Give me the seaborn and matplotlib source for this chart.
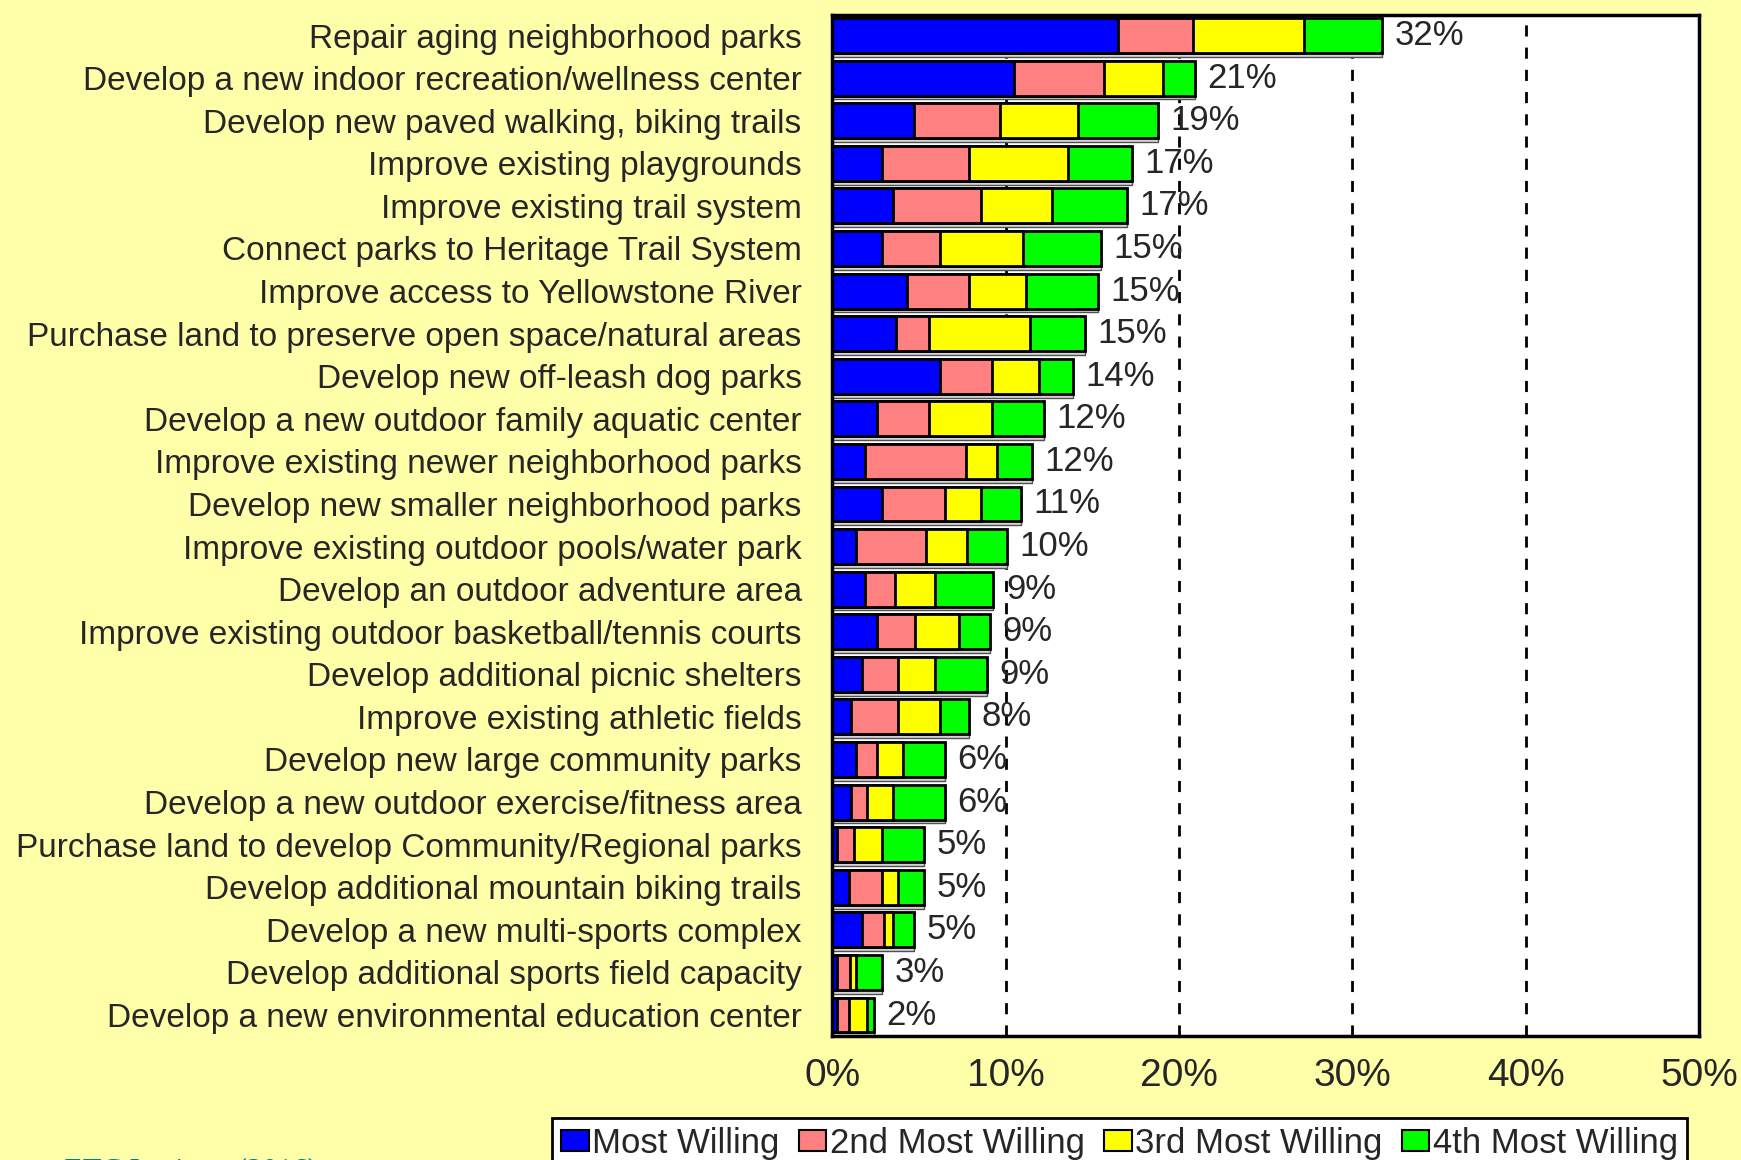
import matplotlib
matplotlib.use("Agg")
import matplotlib.pyplot as plt
import seaborn as sns
import pandas as pd
import numpy as np
from matplotlib.patches import Patch

# === data (percent of respondents) ===
categories = [
    "Repair aging neighborhood parks",
    "Develop a new indoor recreation/wellness center",
    "Develop new paved walking, biking trails",
    "Improve existing playgrounds",
    "Improve existing trail system",
    "Connect parks to Heritage Trail System",
    "Improve access to Yellowstone River",
    "Purchase land to preserve open space/natural areas",
    "Develop new off-leash dog parks",
    "Develop a new outdoor family aquatic center",
    "Improve existing newer neighborhood parks",
    "Develop new smaller neighborhood parks",
    "Improve existing outdoor pools/water park",
    "Develop an outdoor adventure area",
    "Improve existing outdoor basketball/tennis courts",
    "Develop additional picnic shelters",
    "Improve existing athletic fields",
    "Develop new large community parks",
    "Develop a new outdoor exercise/fitness area",
    "Purchase land to develop Community/Regional parks",
    "Develop additional mountain biking trails",
    "Develop a new multi-sports complex",
    "Develop additional sports field capacity",
    "Develop a new environmental education center",
]
most_willing = [16.5, 10.5, 4.7, 2.9, 3.5, 2.9, 4.3, 3.7, 6.2, 2.6, 1.9, 2.9,
                1.4, 1.9, 2.6, 1.7, 1.1, 1.4, 1.1, 0.3, 0.95, 1.7, 0.3, 0.3]
second_willing = [4.3, 5.2, 5.0, 5.0, 5.1, 3.3, 3.6, 1.9, 3.0, 3.0, 5.8, 3.6,
                  4.0, 1.7, 2.2, 2.1, 2.7, 1.2, 0.9, 0.95, 1.95, 1.3, 0.75, 0.65]
third_willing = [6.4, 3.4, 4.5, 5.7, 4.1, 4.8, 3.3, 5.8, 2.75, 3.6, 1.8, 2.1,
                 2.4, 2.3, 2.5, 2.1, 2.4, 1.5, 1.5, 1.65, 0.9, 0.5, 0.35, 1.05]
fourth_willing = [4.5, 1.8, 4.6, 3.7, 4.3, 4.5, 4.1, 3.2, 1.95, 3.0, 2.0, 2.3,
                  2.3, 3.4, 1.8, 3.0, 1.7, 2.4, 3.0, 2.4, 1.5, 1.2, 1.5, 0.4]
total_labels = ["32%", "21%", "19%", "17%", "17%", "15%", "15%", "15%", "14%",
                "12%", "12%", "11%", "10%", "9%", "9%", "9%", "8%", "6%", "6%",
                "5%", "5%", "5%", "3%", "2%"]
legend_labels = ["Most Willing", "2nd Most Willing", "3rd Most Willing", "4th Most Willing"]
x_ticks = [0, 10, 20, 30, 40, 50]

colors = ["#0000FF", "#FF8080", "#FFFF00", "#00FF00"]
bg = "#FFFFAA"

# === cumulative sums for stacking ===
df = pd.DataFrame({
    "item": categories,
    "s1": most_willing,
    "s2": second_willing,
    "s3": third_willing,
    "s4": fourth_willing,
})
df["c1"] = df["s1"]
df["c2"] = df["c1"] + df["s2"]
df["c3"] = df["c2"] + df["s3"]
df["c4"] = df["c3"] + df["s4"]

sns.set_style("white")
plt.rcParams["font.family"] = ["Liberation Sans", "DejaVu Sans"]

fig = plt.figure(figsize=(17.41, 11.60), dpi=100, facecolor=bg)
ax = fig.add_axes([0.478, 0.107, 0.498, 0.880])
ax.set_facecolor("white")

# draw longest cumulative first, shorter ones on top
for col, c in zip(["c4", "c3", "c2", "c1"], colors[::-1]):
    sns.barplot(data=df, x=col, y="item", order=categories, color=c,
                saturation=1, edgecolor="black", linewidth=2, width=0.82,
                errorbar=None, ax=ax)

ax.bar_label(ax.containers[0], labels=total_labels, padding=9, fontsize=25)

# thin grey "3d" shadow under each bar
ax.barh(np.arange(len(categories)) + 0.09, df["c4"], height=0.82,
        color="#D4D4D4", edgecolor="#505050", linewidth=1, zorder=0.9)

ax.set_xlim(0, 50)
ax.set_ylim(len(categories) - 0.51, -0.48)
ax.set_xticks(x_ticks)
ax.set_xticklabels([f"{t}%" for t in x_ticks])
ax.set_xlabel("")
ax.set_ylabel("")
ax.tick_params(axis="y", length=0, pad=22, labelsize=24)
ax.tick_params(axis="x", length=0, pad=16, labelsize=28)
ax.xaxis.grid(True, color="black", linestyle=(0, (4, 4)), linewidth=2)
ax.set_axisbelow(True)
for s in ax.spines.values():
    s.set_visible(True)
    s.set_color("black")
    s.set_linewidth(2.5)

handles = [Patch(facecolor=c, edgecolor="black", linewidth=1.5, label=l)
           for c, l in zip(colors, legend_labels)]
leg = fig.legend(handles=handles, loc="upper center", bbox_to_anchor=(0.643, 0.036),
                 ncol=4, fontsize=25, frameon=True, fancybox=False, framealpha=1,
                 edgecolor="black", handlelength=0.8, handleheight=0.55,
                 handletextpad=0.1, columnspacing=0.55, borderpad=0.25,
                 borderaxespad=0)
leg.get_frame().set_linewidth(2)

fig.text(-0.025, 0.0026, "Source:  ETC Institute (2016)", family="Liberation Serif",
         color="#008080", fontsize=22, va="top")

fig.savefig("out.png", dpi=100, facecolor=bg)
